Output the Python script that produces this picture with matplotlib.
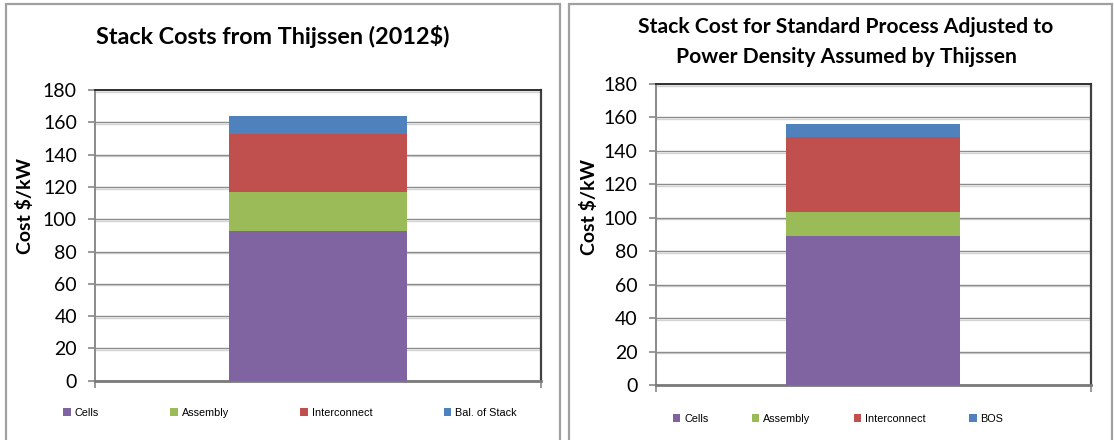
import matplotlib.pyplot as plt
import matplotlib.patheffects as pe
from matplotlib.patches import Rectangle

# stack cost breakdown, $/kW
components_left = ["Cells", "Assembly", "Interconnect", "Bal. of Stack"]
costs_left = [92.7, 24.1, 36.1, 11.0]

components_right = ["Cells", "Assembly", "Interconnect", "BOS"]
costs_right = [89.3, 14.3, 44.8, 7.7]

colors = ["#8064A2", "#9BBB59", "#C0504D", "#4F81BD"]
yticks = list(range(0, 181, 20))

W, H = 1114, 440
fig = plt.figure(figsize=(W / 100, H / 100), dpi=100)

TITLE_FONT = "Lato"
TICK_FONT = "Lato"
LEGEND_FONT = "Liberation Sans"


def frac(x0, y0, x1, y1):
    # pixel box (top-left origin) -> figure fraction rect
    return [x0 / W, 1 - y1 / H, (x1 - x0) / W, (y1 - y0) / H]


def panel_border(x0, x1):
    fig.add_artist(Rectangle((x0 / W, -0.1), (x1 - x0) / W, 1.1 - 4 / H,
                             transform=fig.transFigure, fill=False,
                             edgecolor="#a0a0a0", linewidth=1.6))


def stacked(ax, labels, values):
    bottom = 0
    handles = []
    for lab, val, col in zip(labels, values, colors):
        b = ax.bar([0], [val], bottom=bottom, width=0.4, color=col,
                   label=lab, zorder=3)
        handles.append(b)
        bottom += val
    ax.set_xlim(-0.5, 0.5)
    ax.set_ylim(0, 180)
    ax.set_yticks(yticks)
    ax.set_xticks([-0.5, 0.5])
    ax.set_xticklabels(["", ""])
    ax.tick_params(axis="x", length=5, width=1.2, color="#888888")
    ax.tick_params(axis="y", length=5, width=1.2, color="#888888",
                   labelsize=14, pad=8)
    for t in ax.get_yticklabels():
        t.set_fontfamily(TICK_FONT)
    ax.grid(axis="y", color="#8c8c8c", linewidth=1.0, zorder=1)
    for gl in ax.get_ygridlines():
        gl.set_path_effects([pe.SimpleLineShadow(offset=(0, -1.2),
                                                 shadow_color="#d4d4d4",
                                                 alpha=1), pe.Normal()])
    ax.spines["top"].set_color("#303030")
    ax.spines["right"].set_color("#404040")
    ax.spines["top"].set_linewidth(1.4)
    ax.spines["right"].set_linewidth(1.6)
    ax.spines["left"].set_color("#8a8a8a")
    ax.spines["left"].set_linewidth(1.4)
    ax.spines["bottom"].set_color("#7a7a7a")
    ax.spines["bottom"].set_linewidth(2.0)
    ax.set_ylabel("Cost $/kW", fontfamily=TITLE_FONT, fontweight="bold",
                  fontsize=14)
    return handles


panel_border(6, 560)
panel_border(569, 1112)

# left chart
ax1 = fig.add_axes(frac(95, 90, 541, 380.7))
h1 = stacked(ax1, components_left, costs_left)
ax1.yaxis.set_label_coords(-0.137, 0.60)
fig.text(273 / W, 1 - 37 / H, "Stack Costs from Thijssen (2012$)",
         ha="center", va="center", fontsize=16.8, fontweight="bold",
         fontfamily=TITLE_FONT)
fig.legend(handles=h1, loc="center", bbox_to_anchor=(290 / W, 1 - 413 / H),
           ncol=4, frameon=False, prop={"family": LEGEND_FONT, "size": 7.8},
           handlelength=0.7, handleheight=0.7, handletextpad=0.35,
           columnspacing=6.6)

# right chart
ax2 = fig.add_axes(frac(655.7, 84, 1091, 385))
h2 = stacked(ax2, components_right, costs_right)
ax2.yaxis.set_label_coords(-0.133, 0.59)
fig.text(846 / W, 1 - 42 / H,
         "Stack Cost for Standard Process Adjusted to\nPower Density Assumed by Thijssen",
         ha="center", va="center", fontsize=15.2, fontweight="bold",
         fontfamily=TITLE_FONT, linespacing=1.6)
fig.legend(handles=h2, loc="center", bbox_to_anchor=(838 / W, 1 - 419 / H),
           ncol=4, frameon=False, prop={"family": LEGEND_FONT, "size": 7.8},
           handlelength=0.7, handleheight=0.7, handletextpad=0.35,
           columnspacing=4.0)

fig.savefig("out.png", dpi=100)
